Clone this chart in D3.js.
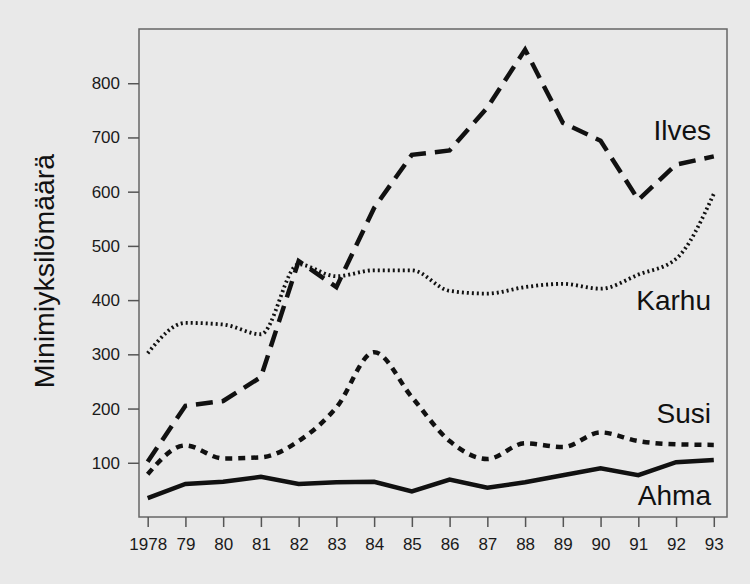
<!DOCTYPE html>
<html>
<head>
<meta charset="utf-8">
<script src="https://cdn.jsdelivr.net/npm/d3@7"></script>
<style>
  body { margin: 0; background: #e9e9e9; }
  svg { display: block; font-family: "Liberation Sans", Arial, sans-serif; }
</style>
</head>
<body>
<div id="chart"></div>
<script>
// years and tick labels
const years = d3.range(1978, 1994);
const yearLabels = ["1978", "79", "80", "81", "82", "83", "84", "85", "86", "87", "88", "89", "90", "91", "92", "93"];
const yTicks = [100, 200, 300, 400, 500, 600, 700, 800];

// series values
const ilves = [102, 205, 214, 258, 472, 424, 570, 668, 676, 755, 862, 727, 694, 585, 650, 665];
const karhu = [302, 358, 355, 337, 466, 444, 455, 455, 417, 412, 424, 430, 421, 447, 476, 596];
const susi  = [79, 132, 108, 110, 140, 202, 304, 221, 140, 107, 136, 129, 156, 140, 134, 133];
const ahma  = [35, 61, 65, 74, 61, 64, 65, 47, 69, 54, 64, 77, 90, 77, 101, 105];

const width = 750;
const height = 584;
const margin = { top: 29, right: 23, bottom: 67, left: 139 };
const chartLocation = '#chart';

const x = d3.scaleLinear()
    .domain([1977.77, 1993.35])
    .range([margin.left, width - margin.right]);

const y = d3.scaleLinear()
    .domain([0, 900])
    .range([height - margin.bottom, margin.top]);

const svg = d3.create("svg")
    .attr("width", width)
    .attr("height", height)
    .attr("viewBox", [0, 0, width, height]);

d3.select(chartLocation).append(() => svg.node());

// plot frame
svg.append("rect")
    .attr("x", margin.left)
    .attr("y", margin.top)
    .attr("width", width - margin.right - margin.left)
    .attr("height", height - margin.bottom - margin.top)
    .attr("fill", "none")
    .attr("stroke", "#666")
    .attr("stroke-width", 1.5);

const xAxis = g => g
    .attr("transform", `translate(0,${height - margin.bottom})`)
    .call(d3.axisBottom(x).tickValues(years).tickFormat((d, i) => yearLabels[i]).tickSize(10).tickPadding(11))
    .call(g => g.select(".domain").remove());

const yAxis = g => g
    .attr("transform", `translate(${margin.left},0)`)
    .call(d3.axisLeft(y).tickValues(yTicks).tickSize(11).tickPadding(8))
    .call(g => g.select(".domain").remove());

svg.append("g").call(xAxis);
svg.append("g").call(yAxis);

svg.selectAll(".tick line").attr("stroke", "#555").attr("stroke-width", 1.5);
svg.selectAll(".tick text")
    .attr("fill", "#1a1a1a")
    .style("font-size", "17px")
    .style("font-family", "'Liberation Sans', Arial, sans-serif");

// lines
const series = [
    { name: "Ilves", values: ilves, dash: "17,9", width: 4.5, curve: d3.curveLinear },
    { name: "Karhu", values: karhu, dash: "2,3", width: 3.8, curve: d3.curveMonotoneX },
    { name: "Susi", values: susi, dash: "7,6", width: 4.5, curve: d3.curveMonotoneX },
    { name: "Ahma", values: ahma, dash: null, width: 4.5, curve: d3.curveLinear }
];

series.forEach(s => {
    const line = d3.line()
        .x((d, i) => x(years[i]))
        .y(d => y(d))
        .curve(s.curve);
    svg.append("path")
        .datum(s.values)
        .attr("fill", "none")
        .attr("stroke", "#111")
        .attr("stroke-width", s.width)
        .attr("stroke-dasharray", s.dash)
        .attr("d", line);
});

// series labels
const labelPos = [
    { text: "Ilves", y: 140 },
    { text: "Karhu", y: 310 },
    { text: "Susi", y: 423 },
    { text: "Ahma", y: 505 }
];
svg.selectAll(".series-label")
    .data(labelPos)
    .join("text")
    .attr("class", "series-label")
    .attr("x", 711)
    .attr("y", d => d.y)
    .attr("text-anchor", "end")
    .attr("fill", "#111")
    .style("font-size", "28px")
    .text(d => d.text);

// Y axis label
svg.append("text")
    .attr("transform", "rotate(-90)")
    .attr("x", -271)
    .attr("y", 54)
    .style("text-anchor", "middle")
    .style("font-size", "28.5px")
    .attr("fill", "#111")
    .text("Minimiyksilömäärä");
</script>
</body>
</html>
